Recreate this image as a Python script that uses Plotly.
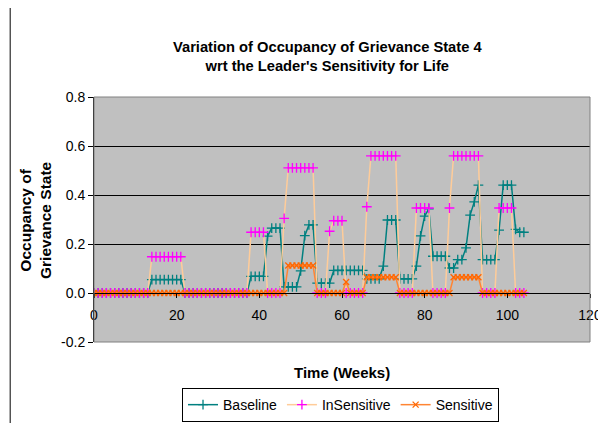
import plotly.graph_objects as go

# weeks 0..104
weeks = list(range(0, 105))

baseline = [
    0, 0, 0, 0, 0, 0, 0, 0, 0, 0,
    0, 0, 0, 0, 0.055, 0.055, 0.055, 0.055, 0.055, 0.055,
    0.055, 0.055, 0, 0, 0, 0, 0, 0, 0, 0,
    0, 0, 0, 0, 0, 0, 0, 0, 0.068, 0.068,
    0.068, 0.068, 0.232, 0.265, 0.265, 0.265, 0.025, 0.025, 0.025, 0.025,
    0.09, 0.234, 0.278, 0.278, 0.04, 0.04, 0.04, 0.04, 0.092, 0.092,
    0.092, 0.092, 0.092, 0.092, 0.092, 0.092, 0.058, 0.058, 0.058, 0.058,
    0.11, 0.298, 0.298, 0.298, 0.058, 0.058, 0.058, 0.058, 0.11, 0.233,
    0.314, 0.343, 0.15, 0.15, 0.15, 0.15, 0.102, 0.102, 0.136, 0.136,
    0.184, 0.318, 0.372, 0.44, 0.136, 0.136, 0.136, 0.136, 0.257, 0.44,
    0.44, 0.44, 0.26, 0.248, 0.248,
]

insensitive = [
    0, 0, 0, 0, 0, 0, 0, 0, 0, 0,
    0, 0, 0, 0, 0.148, 0.148, 0.148, 0.148, 0.148, 0.148,
    0.148, 0.148, 0, 0, 0, 0, 0, 0, 0, 0,
    0, 0, 0, 0, 0, 0, 0, 0, 0.248, 0.248,
    0.248, 0.248, 0, 0, 0, 0, 0.305, 0.511, 0.511, 0.511,
    0.511, 0.511, 0.511, 0.511, 0, 0, 0, 0.252, 0.295, 0.295,
    0.295, 0, 0, 0, 0, 0, 0.352, 0.56, 0.56, 0.56,
    0.56, 0.56, 0.56, 0.56, 0, 0, 0, 0, 0.347, 0.347,
    0.347, 0.347, 0, 0, 0, 0, 0.347, 0.56, 0.56, 0.56,
    0.56, 0.56, 0.56, 0.56, 0, 0, 0, 0, 0.347, 0.347,
    0.347, 0.347, 0, 0, 0,
]

sensitive = [
    0, 0, 0, 0, 0, 0, 0, 0, 0, 0,
    0, 0, 0, 0, 0, 0, 0, 0, 0, 0,
    0, 0, 0, 0, 0, 0, 0, 0, 0, 0,
    0, 0, 0, 0, 0, 0, 0, 0, 0, 0,
    0, 0, 0, 0, 0, 0, 0, 0.112, 0.112, 0.112,
    0.112, 0.112, 0.112, 0.112, 0, 0, 0, 0, 0, 0,
    0, 0.045, 0, 0, 0, 0, 0.064, 0.064, 0.064, 0.064,
    0.064, 0.064, 0.064, 0.064, 0, 0, 0, 0, 0, 0,
    0, 0, 0, 0, 0, 0, 0, 0.064, 0.064, 0.064,
    0.064, 0.064, 0.064, 0.064, 0, 0, 0, 0, 0, 0,
    0, 0, 0, 0, 0,
]

y_ticks = [-0.2, 0.0, 0.2, 0.4, 0.6, 0.8]
y_ticklabels = ["-0.2", "0.0", "0.2", "0.4", "0.6", "0.8"]

FONT = "Liberation Sans, Arial, sans-serif"

fig = go.Figure()

fig.add_trace(go.Scatter(
    x=weeks, y=baseline, name="Baseline", mode="lines+markers",
    line=dict(color="#008080", width=1.5),
    marker=dict(symbol="cross-thin", size=7, line=dict(color="#008080", width=1.3)),
))
fig.add_trace(go.Scatter(
    x=weeks, y=insensitive, name="InSensitive", mode="lines+markers",
    line=dict(color="#FFCC99", width=1.5),
    marker=dict(symbol="cross-thin", size=7, line=dict(color="#FF00FF", width=1.3)),
))
fig.add_trace(go.Scatter(
    x=weeks, y=sensitive, name="Sensitive", mode="lines+markers",
    line=dict(color="#FF8533", width=1.5),
    marker=dict(symbol="x-thin", size=6, line=dict(color="#FF6600", width=1.3)),
))

# the page adds an 8px body margin, so the figure is 8px smaller than the window
fig.update_layout(
    width=598, height=415,
    margin=dict(l=86, r=16, t=89, b=81, autoexpand=False),
    paper_bgcolor="white",
    plot_bgcolor="#C0C0C0",
    font=dict(family=FONT, size=14, color="black"),
    showlegend=True,
    legend=dict(
        orientation="h", x=0.497, xanchor="center", y=-0.188, yanchor="top",
        bordercolor="black", borderwidth=1, bgcolor="white",
        font=dict(size=14), itemwidth=30,
    ),
    xaxis=dict(
        range=[0, 120], dtick=20, tickformat="d",
        anchor="free", position=0.2,
        showline=True, linecolor="black", linewidth=1,
        ticks="outside", ticklen=4, tickcolor="black", ticklabelstandoff=5,
        showgrid=False, zeroline=False,
    ),
    yaxis=dict(
        range=[-0.2, 0.8], tickvals=y_ticks, ticktext=y_ticklabels,
        showline=True, linecolor="black", linewidth=1,
        ticks="outside", ticklen=5, tickcolor="black",
        showgrid=True, gridcolor="black", gridwidth=1,
        zeroline=False,
    ),
    annotations=[
        dict(text="<b>Variation of Occupancy of Grievance State 4<br>wrt the Leader's Sensitivity for Life</b>",
             xref="paper", yref="paper", x=0.47, y=1.167, xanchor="center", yanchor="middle",
             showarrow=False, font=dict(size=14.7)),
        dict(text="<b>Time (Weeks)</b>", xref="paper", yref="paper", x=0.5, y=-0.125,
             xanchor="center", yanchor="middle", showarrow=False, font=dict(size=15)),
        dict(text="<b>Occupancy of<br>Grievance State</b>", xref="paper", yref="paper",
             x=-0.118, y=0.5, xanchor="center", yanchor="middle", textangle=-90,
             showarrow=False, font=dict(size=15.5)),
    ],
    shapes=[
        dict(type="rect", xref="paper", yref="paper", x0=0, x1=1, y0=0, y1=1,
             line=dict(color="#808080", width=1), layer="above"),
        dict(type="line", xref="paper", yref="paper", x0=-0.169, x1=-0.169, y0=-1, y1=1.5,
             line=dict(color="black", width=1)),
    ],
)

fig.write_html("out.html")
